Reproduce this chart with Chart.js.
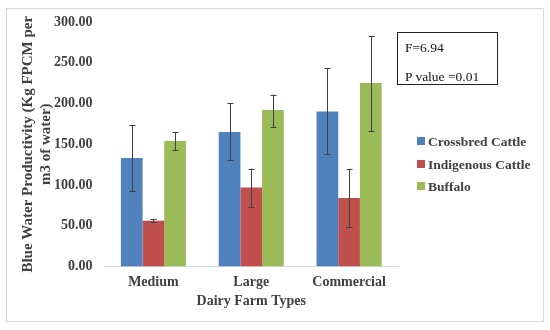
<!DOCTYPE html>
<html>
<head>
<meta charset="utf-8">
<script src="https://cdn.jsdelivr.net/npm/chart.js@4.4.0/dist/chart.umd.min.js"></script>
<style>
  html, body { margin: 0; padding: 0; background: #fff; }
  body { width: 550px; height: 330px; position: relative; overflow: hidden; font-family: "Liberation Serif", "Times New Roman", serif; }
  #frame { position: absolute; left: 6px; top: 8px; width: 538px; height: 314px; border: 1px solid #d9d9d9; box-sizing: border-box; }
  #wrap { position: absolute; left: 0; top: 0; width: 410px; height: 330px; }
  #stat { position: absolute; left: 397px; top: 32px; width: 101px; height: 53px; border: 1.5px solid #222; box-sizing: border-box; font-size: 13.5px; color: #111; }
  #stat div { position: absolute; left: 7px; line-height: 16px; }
  #legend { position: absolute; left: 417px; top: 133px; font-weight: bold; font-size: 13.5px; color: #404040; }
  #legend .item { height: 22.5px; line-height: 18px; white-space: nowrap; }
  #legend .sw { display: inline-block; width: 8px; height: 8px; margin-right: 3px; vertical-align: 1px; }
</style>
</head>
<body>
<div id="frame"></div>
<div id="wrap"><canvas id="c" width="410" height="330"></canvas></div>
<div id="stat"><div style="top:7px">F=6.94</div><div style="top:36px">P value =0.01</div></div>
<div id="legend"></div>
<script>
const categories = ["Medium", "Large", "Commercial"];
const seriesNames = ["Crossbred Cattle", "Indigenous Cattle", "Buffalo"];
const crossbred = [133, 165, 190];
const indigenous = [56, 97, 84];
const buffalo = [154, 192, 225];
const crossbredLow = [92, 130, 138];
const crossbredHigh = [173, 200, 243];
const indigenousLow = [54, 73, 48];
const indigenousHigh = [58, 120, 120];
const buffaloLow = [143, 171, 166];
const buffaloHigh = [165, 211, 283];
const yTicks = [0, 50, 100, 150, 200, 250, 300];
const colors = ["#4F81BD", "#C0504D", "#9BBB59"];

const lows = [crossbredLow, indigenousLow, buffaloLow];
const highs = [crossbredHigh, indigenousHigh, buffaloHigh];
const values = [crossbred, indigenous, buffalo];

const legendEl = document.getElementById('legend');
seriesNames.forEach((n, i) => {
  const d = document.createElement('div');
  d.className = 'item';
  d.innerHTML = '<span class="sw" style="background:' + colors[i] + '"></span>' + n;
  legendEl.appendChild(d);
});

const errorBars = {
  id: 'errorBars',
  afterDatasetsDraw(chart) {
    const ctx = chart.ctx;
    const y = chart.scales.y;
    ctx.save();
    ctx.strokeStyle = '#404040';
    ctx.lineWidth = 1;
    chart.data.datasets.forEach((ds, di) => {
      const meta = chart.getDatasetMeta(di);
      meta.data.forEach((bar, i) => {
        const x = Math.round(bar.x) + 0.5;
        const yl = y.getPixelForValue(lows[di][i]);
        const yh = y.getPixelForValue(highs[di][i]);
        ctx.beginPath();
        ctx.moveTo(x, yl); ctx.lineTo(x, yh);
        ctx.moveTo(x - 3, Math.round(yl) + 0.5); ctx.lineTo(x + 3, Math.round(yl) + 0.5);
        ctx.moveTo(x - 3, Math.round(yh) + 0.5); ctx.lineTo(x + 3, Math.round(yh) + 0.5);
        ctx.stroke();
      });
    });
    ctx.restore();
  }
};

const font = { family: '"Liberation Serif", "Times New Roman", serif', weight: 'bold', size: 14 };
const titleFont = { family: '"Liberation Serif", "Times New Roman", serif', weight: 'bold', size: 15 };

new Chart(document.getElementById('c'), {
  type: 'bar',
  data: {
    labels: categories,
    datasets: seriesNames.map((n, i) => ({
      label: n,
      data: values[i],
      backgroundColor: colors[i],
      borderWidth: 0,
      categoryPercentage: 0.665,
      barPercentage: 1.0
    }))
  },
  options: {
    responsive: false,
    animation: false,
    devicePixelRatio: 1,
    layout: { padding: { left: 19, right: 12, top: 22, bottom: 20 } },
    plugins: { legend: { display: false }, tooltip: { enabled: false } },
    scales: {
      x: {
        grid: { display: false, drawTicks: false },
        border: { display: true, color: '#d9d9d9', width: 1 },
        ticks: { color: '#404040', font: font, padding: 8 },
        title: { display: true, text: 'Dairy Farm Types', color: '#404040', font: font, padding: { top: -6, bottom: 0 } }
      },
      y: {
        min: 0, max: 300,
        afterBuildTicks: (axis) => { axis.ticks = yTicks.map(v => ({ value: v })); },
        grid: { display: false, drawTicks: false },
        border: { display: false },
        ticks: { color: '#404040', font: font, padding: 12, callback: v => Number(v).toFixed(2) },
        title: { display: true, text: ['Blue Water Productivity (Kg FPCM per', 'm3 of water)'], color: '#404040', font: titleFont, padding: { top: 0, bottom: -13 } }
      }
    }
  },
  plugins: [errorBars]
});
</script>
</body>
</html>
